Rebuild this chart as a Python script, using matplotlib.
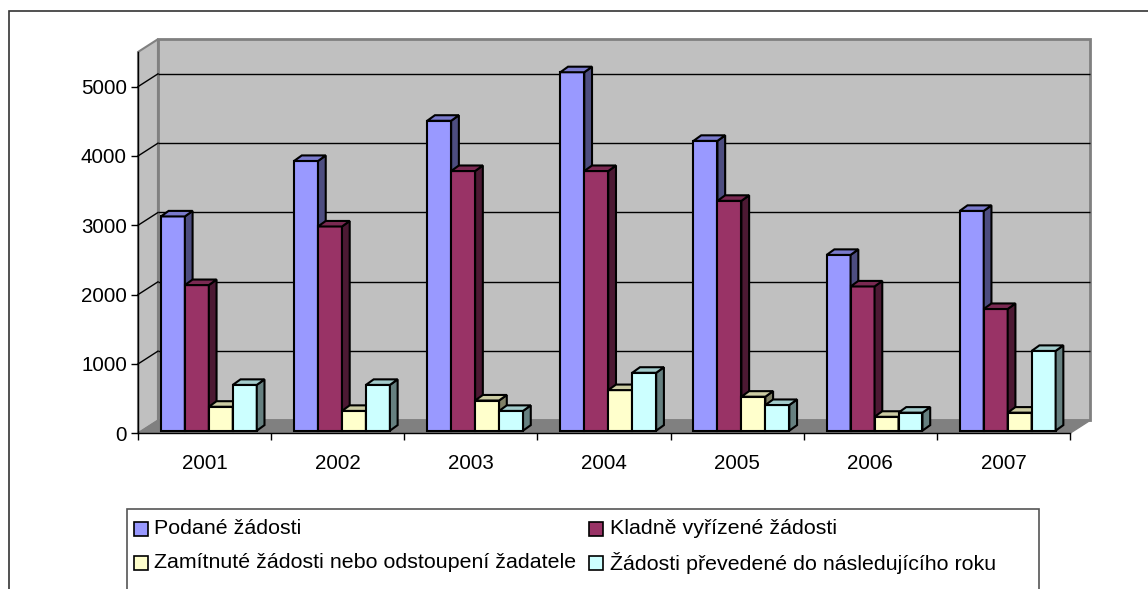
import matplotlib
matplotlib.use("Agg")
from matplotlib import pyplot as plt
from matplotlib.patches import Rectangle, Polygon

plt.rcParams['font.family'] = ['Liberation Sans', 'DejaVu Sans']

years = ['2001', '2002', '2003', '2004', '2005', '2006', '2007']
podane = [3090, 3890, 4470, 5170, 4180, 2535, 3170]
kladne = [2100, 2945, 3745, 3745, 3315, 2080, 1755]
zamitnute = [345, 285, 435, 585, 490, 200, 260]
prevedene = [660, 660, 285, 835, 370, 260, 1150]

names = ['Podané žádosti', 'Kladně vyřízené žádosti',
         'Zamítnuté žádosti nebo odstoupení žadatele',
         'Žádosti převedené do následujícího roku']
series = [podane, kladne, zamitnute, prevedene]

front_col = ['#9999FF', '#993366', '#FFFFCC', '#CCFFFF']
side_col = ['#4D4D80', '#4C1933', '#808066', '#668080']
top_col = ['#7A7ACC', '#7A2952', '#CCCCA3', '#A3CCCC']

W, H = 1148, 589
YMAX = 5500

# depth of the floor / walls (data units), bar placement
DX, DY = 0.15, 185
W_BAR = 0.18
FX, FY = 0.032, 38      # bars sit a bit behind the front edge
BDX, BDY = 0.058, 80    # depth of a bar

fig = plt.figure(figsize=(W / 100, H / 100), dpi=100)


def fx(x):
    return x / W


def fy(y):
    return 1 - y / H


ax = fig.add_axes([fx(138), fy(433.3), (1070 - 138) / W, (433.3 - 52) / H])
ax.set_facecolor('none')
ax.set_xlim(-0.5, len(years) - 0.5)
ax.set_ylim(0, YMAX)
x_left, x_right = -0.5, len(years) - 0.5

# walls and floor
left_wall = Polygon([(x_left, 0), (x_left, YMAX), (x_left + DX, YMAX + DY), (x_left + DX, DY)],
                    closed=True, facecolor='#C0C0C0', edgecolor='#808080', lw=1.5,
                    clip_on=False, zorder=0.5)
ax.add_patch(left_wall)
back_wall = Rectangle((x_left + DX, DY), x_right - x_left, YMAX, facecolor='#C0C0C0',
                      edgecolor='#808080', lw=2, clip_on=False, zorder=0.5)
ax.add_patch(back_wall)
floor = Polygon([(x_left, 0), (x_right, 0), (x_right + DX, DY), (x_left + DX, DY)],
                closed=True, facecolor='#808080', edgecolor='#808080', lw=1,
                clip_on=False, zorder=0.6)
ax.add_patch(floor)

for v in range(1000, 5001, 1000):
    ax.plot([x_left + DX, x_right + DX], [v + DY, v + DY], color='black', lw=1,
            clip_on=False, zorder=0.7, solid_capstyle='butt')
    ax.plot([x_left, x_left + DX], [v, v + DY], color='black', lw=1,
            clip_on=False, zorder=0.7)

# 3d looking columns
n = len(series)
z = 3
for i in range(len(years)):
    for k in range(n):
        val = series[k][i]
        x0 = i - n * W_BAR / 2 + k * W_BAR + FX
        y0 = FY
        kw = dict(edgecolor='black', lw=1.5, clip_on=False, zorder=z, joinstyle='miter')
        ax.add_patch(Rectangle((x0, y0), W_BAR, val, facecolor=front_col[k], **kw))
        ax.add_patch(Polygon([(x0 + W_BAR, y0), (x0 + W_BAR + BDX, y0 + BDY),
                              (x0 + W_BAR + BDX, y0 + val + BDY), (x0 + W_BAR, y0 + val)],
                             closed=True, facecolor=side_col[k], **kw))
        ax.add_patch(Polygon([(x0, y0 + val), (x0 + BDX, y0 + val + BDY),
                              (x0 + W_BAR + BDX, y0 + val + BDY), (x0 + W_BAR, y0 + val)],
                             closed=True, facecolor=top_col[k], **kw))
        z += 0.01

# axes
for s in ['top', 'right']:
    ax.spines[s].set_visible(False)
for s in ['left', 'bottom']:
    ax.spines[s].set_color('black')
    ax.spines[s].set_linewidth(1)
ax.set_yticks(range(0, 5001, 1000))
ax.tick_params(axis='y', direction='out', length=5, width=1, pad=3, labelsize=14.8)
ax.set_xticks([i - 0.5 for i in range(len(years) + 1)])
ax.set_xticklabels([])
ax.set_xticks(range(len(years)), minor=True)
ax.set_xticklabels(years, minor=True)
ax.tick_params(axis='x', which='major', direction='out', length=5, width=1)
ax.tick_params(axis='x', which='minor', length=0, pad=15, labelsize=14.8)

# legend drawn by hand (box runs past the bottom of the picture)
fig.patches.append(Rectangle((fx(126.7), fy(620)), (1039 - 126.7) / W, (620 - 509.3) / H,
                             transform=fig.transFigure, facecolor='white',
                             edgecolor='#555555', lw=1.2))
leg_pos = [(133.5, 529), (588.5, 529), (133.5, 563), (588.5, 563)]
for k, (lx, ly) in enumerate(leg_pos):
    fig.patches.append(Rectangle((fx(lx), fy(ly + 7)), 14 / W, 14 / H,
                                 transform=fig.transFigure, facecolor=front_col[k],
                                 edgecolor='black', lw=1.2))
    fig.text(fx(lx + 21), fy(ly), names[k], fontsize=15.4, va='center', ha='left')

# outer border of the chart area
fig.patches.append(Rectangle((fx(8.5), fy(700)), 2, (700 - 10.7) / H,
                             transform=fig.transFigure, facecolor='none',
                             edgecolor='#333333', lw=1.2))

fig.savefig('out.png', dpi=100)
